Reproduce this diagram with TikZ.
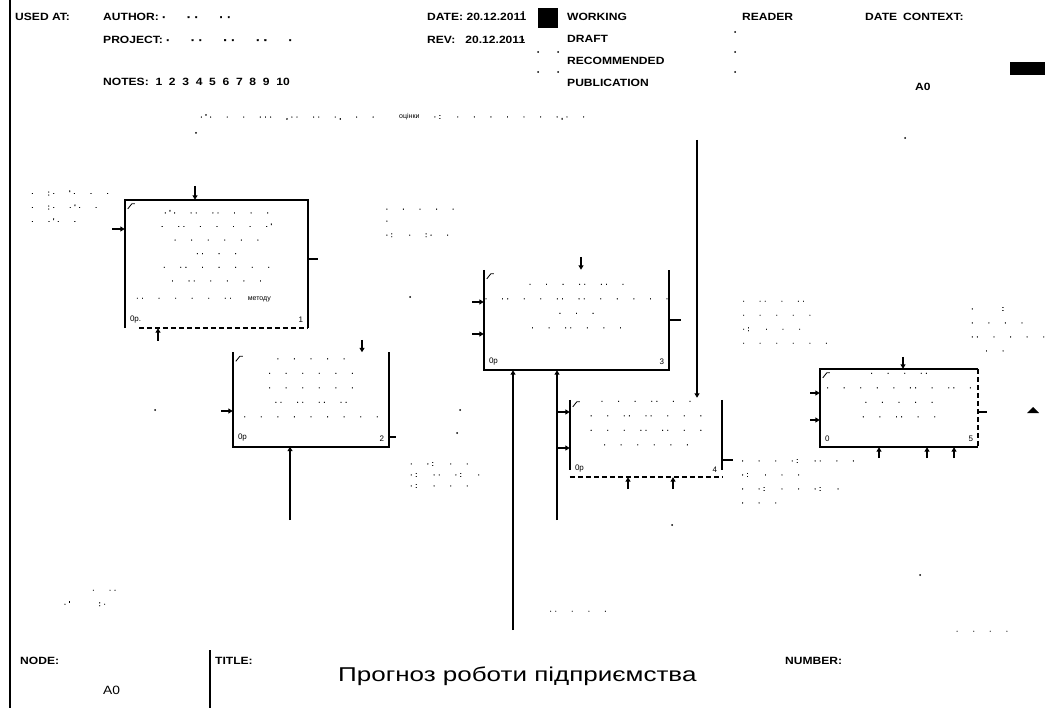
\documentclass[tikz,border=0pt]{standalone}
\usepackage{fontspec}
\setmainfont{Liberation Sans}
\newfontfamily\hdrfont[FakeStretch=1.15]{Liberation Sans}
\newfontfamily\titlefont[FakeStretch=1.3]{Liberation Sans}
\newfontfamily\dotfont[WordSpace=3,LetterSpace=40,FakeBold=3]{Liberation Sans}
\usetikzlibrary{arrows.meta,positioning}

\begin{document}
\begin{tikzpicture}[x=1pt,y=-1pt,>={Triangle[length=4.5pt,width=5pt]},
  line/.style={line width=1.6pt},
  dashline/.style={line width=1.6pt,dash pattern=on 5pt off 3pt},
  box/.style={inner sep=0pt},
  boxtext/.style={inner sep=0pt,align=center,font=\dotfont\fontsize{7}{14.5}\selectfont},
  hdr/.style={anchor=west,inner sep=0pt,font=\hdrfont\bfseries\fontsize{10.5}{12}\selectfont},
  dots/.style={align=left,inner sep=0pt,font=\dotfont\fontsize{7}{14}\selectfont},
  num/.style={inner sep=0pt,font=\fontsize{8}{9}\selectfont},
  tick/.style={line width=0.8pt}]
\useasboundingbox (0,0) rectangle (1052,708);
\fill[white] (0,0) rectangle (1052,708);

% frame
\coordinate (ftop) at (10,0);
\coordinate (fbot) at (10,708);
\draw[line] (ftop) -- (fbot);

% header
\node[hdr] (usedat) at (15,17) {USED AT:};
\node[hdr] (author) at (103,17) {AUTHOR: \dotfont · ·· ··};
\node[hdr] (project) at (103,40) {PROJECT: \dotfont · ·· ·· ·· ·};
\node[hdr] (notes) at (103,82) {NOTES:\ \ 1\ \ 2\ \ 3\ \ 4\ \ 5\ \ 6\ \ 7\ \ 8\ \ 9\ \ 10};
\node[hdr] (date) at (427,17) {DATE: 20.12.2011};
\node[hdr] (rev) at (427,40) {REV:\ \ \ 20.12.2011};
\fill (538,8) rectangle (558,28);
\node[hdr] (working) at (567,17) {WORKING};
\node[hdr] (draft) at (567,39) {DRAFT};
\node[hdr] (recom) at (567,61) {RECOMMENDED};
\node[hdr] (publ) at (567,83) {PUBLICATION};
\node[hdr] (reader) at (742,17) {READER};
\node[hdr] (rdate) at (865,17) {DATE};
\node[hdr] (context) at (903,17) {CONTEXT:};
\node[hdr] (ctxnode) at (915,87) {A0};
\fill (1010,62) rectangle (1045,75);
\foreach \x/\y in {523/12,523/40,538/52,558/52,538/72,558/72,735/32,735/52,735/72}
  \fill (\x,\y) circle (1pt);

% boxes
\node[box,minimum width=183pt,minimum height=128pt] (b1) at (216.5,264) {};
\node[box,minimum width=156pt,minimum height=94pt] (b2) at (311,399.5) {};
\node[box,minimum width=185pt,minimum height=100pt] (b3) at (576.5,320) {};
\node[box,minimum width=152pt,minimum height=79pt] (b4) at (646,437.5) {};
\node[box,minimum width=158pt,minimum height=78pt] (b5) at (899,408) {};

\node[boxtext,below=10pt of b1.north,font=\dotfont\fontsize{7}{13.6}\selectfont] (b1txt)
  {·'· ·· ·· · · ·\\ · ·· · · · · ·'\\ · · · · · ·\\ ·· · ·\\ · ·· · · · · ·\\ · ·· · · · ·};
\node[dots,anchor=west] (b1last) at (136,299) {·· · · · · ·· \hspace{2pt}{\rmfamily\fontsize{7}{8}\selectfont методу}};
\node[boxtext,below=6pt of b2.north] (b2txt)
  {· · · · ·\\ · · · · · ·\\ · · · · · ·\\ ·· ·· ·· ··\\ · · · · · · · · ·};
\node[boxtext,below=14pt of b3.north] (b3txt)
  {· · · ·· ·· ·\\ · ·· · · ·· ·· · · · · ·\\ · · ·\\ · · ·· · · ·};
\node[boxtext,below=3pt of b4.north] (b4txt)
  {· · · ·· · ·\\ · · ·· ·· · · ·\\ · · · ·· ·· · ·\\ · · · · · ·};
\node[boxtext,below=4pt of b5.north] (b5txt)
  {· · · ··\\ · · · · · ·· · ·· ·\\ · · · · ·\\ · · ·· · ·};

\draw[line] (b1.south west) -- (b1.north west) -- (b1.north east) -- (b1.south east);
\draw[dashline] ([xshift=14pt]b1.south west) -- (b1.south east);
\draw[line] (b2.north west) -- (b2.south west) -- (b2.south east) -- (b2.north east);
\draw[line] (b3.north west) -- (b3.south west) -- (b3.south east) -- (b3.north east);
\draw[line] ([yshift=-2pt]b4.north west) -- ([yshift=7pt]b4.south west);
\draw[line] ([yshift=-2pt]b4.north east) -- ([yshift=7pt]b4.south east);
\draw[dashline] (b4.south west) -- (b4.south east);
\draw[line] (b5.north east) -- (b5.north west) -- (b5.south west) -- (b5.south east);
\draw[dashline] (b5.north east) -- (b5.south east);

% corner ticks and numbers
\foreach \b/\n/\c in {b1/1/0р.,b2/2/0р,b3/3/0р,b4/4/0р,b5/5/0} {
  \draw[tick] ([shift={(3,9)}]\b.north west) -- ++(4,-5) -- ++(3,0);
  \node[num,anchor=south west] at ([shift={(5,-5)}]\b.south west) {\c};
  \node[num,anchor=south east] at ([shift={(-5,-5)}]\b.south east) {\n};
}

% box 1 arrows
\coordinate (t1) at (195,186);
\coordinate (l1) at (112,229);
\coordinate (o1) at (318,259);
\coordinate (m1) at (158,341);
\draw[line,->] (t1) -- (t1 |- b1.north);
\draw[line,->] (l1) -- (l1 -| b1.west);
\draw[line] (o1 -| b1.east) -- (o1);
\draw[line,->] (m1) -- (m1 |- b1.south);

% box 2 arrows
\coordinate (t2) at (362,340);
\coordinate (l2) at (221,411);
\coordinate (o2) at (396,437);
\coordinate (m2) at (290,520);
\draw[line,->] (t2) -- (t2 |- b2.north);
\draw[line,->] (l2) -- (l2 -| b2.west);
\draw[line] (o2 -| b2.east) -- (o2);
\draw[line,->] (m2) -- (m2 |- b2.south);

% box 3 arrows
\coordinate (t3) at (581,257);
\coordinate (l3a) at (472,302);
\coordinate (l3b) at (472,334);
\coordinate (o3) at (681,320);
\coordinate (m3a) at (513,630);
\coordinate (m3b) at (557,520);
\draw[line,->] (t3) -- (t3 |- b3.north);
\draw[line,->] (l3a) -- (l3a -| b3.west);
\draw[line,->] (l3b) -- (l3b -| b3.west);
\draw[line] (o3 -| b3.east) -- (o3);
\draw[line,->] (m3a) -- (m3a |- b3.south);
\draw[line,->] (m3b) -- (m3b |- b3.south);

% box 4 arrows
\coordinate (c4) at (697,140);
\coordinate (i4a) at (557,412);
\coordinate (i4b) at (557,448);
\coordinate (o4) at (733,460);
\coordinate (m4a) at (628,489);
\coordinate (m4b) at (673,489);
\draw[line,->] (c4) -- (c4 |- b4.north);
\draw[line,->] (i4a) -- (i4a -| b4.west);
\draw[line,->] (i4b) -- (i4b -| b4.west);
\draw[line] (o4 -| b4.east) -- (o4);
\draw[line,->] (m4a) -- (m4a |- b4.south);
\draw[line,->] (m4b) -- (m4b |- b4.south);

% box 5 arrows
\coordinate (t5) at (903,357);
\coordinate (l5a) at (810,393);
\coordinate (l5b) at (810,420);
\coordinate (o5) at (987,412);
\draw[line,->] (t5) -- (t5 |- b5.north);
\draw[line,->] (l5a) -- (l5a -| b5.west);
\draw[line,->] (l5b) -- (l5b -| b5.west);
\draw[line] (o5 -| b5.east) -- (o5);
\foreach \x in {879,927,954} {
  \coordinate (m5) at (\x,458);
  \draw[line,->] (m5) -- (m5 |- b5.south);
}
\fill (1027,413) -- (1039,413) -- (1033,407) -- cycle;

% arrow labels
\node[dots,anchor=west] (ltop) at (200,117) {·'· · · ··· ,·· ·· ·, · ·};
\node[dots,anchor=west] (locin) at (399,117) {{\rmfamily\fontsize{7}{8}\selectfont оцінки} ·: · · · · · · ·,· ·};
\node[dots] (lin1) at (70,207) {· :· '· · ·\\ · :· ·'· ·\\ · ·'· ·};
\node[dots] (lout1) at (420,223) {· · · · ·\\[-2pt] ·\\ ·: · :· ·};
\node[dots] (lmid) at (445,475) {· ·: · ·\\[-3pt] ·: ·· ·: ·\\[-3pt] ·: · · ·};
\node[dots] (lright1) at (785,323) {· ·· · ··\\ · · · · ·\\ ·: · · ·\\ · · · · · ·};
\node[dots] (lright2) at (1008,330) {· \ :\\ · · · ·\\ ·· · · · ·\\ \ · ·};
\node[dots] (lout4) at (798,482) {· · · ·: ·· · ·\\ ·: · · ·\\ · ·: · · ·: ·\\ · · ·};
\node[dots] (lmech1) at (90,598) {\ \ · ··\\ ·' \ :·};
\node[dots] (lmech3) at (578,612) {·· · · ·};
\node[dots] (lcorner) at (982,632) {· · · ·};
\foreach \x/\y in {196/133,905/138,410/297,155/410,460/410,457/433,672/525,920/575}
  \fill (\x,\y) circle (1pt);

% footer
\coordinate (dtop) at (210,650);
\coordinate (dbot) at (210,708);
\draw[line] (dtop) -- (dbot);
\node[hdr] (nodelbl) at (20,661) {NODE:};
\node[hdr,font=\hdrfont\fontsize{12}{13}\selectfont] (nodeval) at (103,690) {A0};
\node[hdr] (titlelbl) at (215,661) {TITLE:};
\node[anchor=west,inner sep=0pt,font=\titlefont\fontsize{20}{22}\selectfont] (title) at (338,676) {Прогноз роботи підприємства};
\node[hdr] (numlbl) at (785,661) {NUMBER:};
\end{tikzpicture}
\end{document}
